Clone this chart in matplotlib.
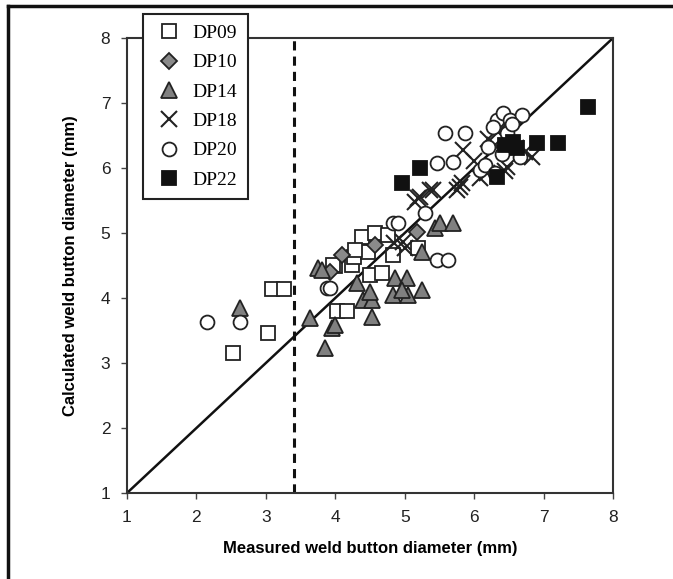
import matplotlib
matplotlib.use("Agg")
import matplotlib.pyplot as plt
from matplotlib.lines import Line2D

# measured (x) vs calculated (y) weld button diameter, mm
dp09_x = [2.53, 3.03, 3.09, 3.26, 4.03, 4.17, 4.00, 4.24, 4.27, 4.39, 4.47, 4.50,
          4.57, 4.67, 4.76, 4.83, 5.19, 3.97, 4.29]
dp09_y = [3.15, 3.46, 4.14, 4.14, 3.80, 3.80, 4.49, 4.51, 4.63, 4.94, 4.71, 4.35,
          5.00, 4.38, 4.97, 4.66, 4.77, 4.51, 4.74]

dp10_x = [4.10, 4.57, 5.18, 3.92]
dp10_y = [4.66, 4.82, 5.02, 4.40]

dp14_x = [2.63, 3.64, 3.75, 3.81, 3.85, 3.95, 4.00, 4.31, 4.40, 4.53, 4.53, 4.50,
          4.86, 5.03, 4.83, 5.05, 4.96, 5.25, 5.25, 5.44, 5.51, 5.70]
dp14_y = [3.85, 3.69, 4.46, 4.43, 3.23, 3.54, 3.58, 4.23, 3.97, 3.97, 3.71, 4.10,
          4.31, 4.31, 4.05, 4.05, 4.12, 4.12, 4.71, 5.08, 5.15, 5.15]

dp18_x = [4.85, 4.98, 5.00, 5.15, 5.19, 5.22, 5.37, 5.41, 5.75, 5.80, 5.83, 6.09,
          6.00, 6.19, 6.30, 6.48, 6.60, 6.73, 6.84, 6.20, 6.35, 5.84, 6.45]
dp18_y = [4.85, 4.86, 4.77, 5.48, 5.54, 5.55, 5.66, 5.66, 5.66, 5.71, 5.77, 5.85,
          6.10, 5.92, 6.35, 6.02, 6.30, 6.25, 6.17, 6.45, 6.55, 6.28, 5.95]

dp20_x = [2.15, 2.63, 3.88, 3.93, 4.83, 4.90, 5.29, 5.47, 5.63, 5.47, 5.58, 5.70,
          5.87, 6.09, 6.15, 6.33, 6.42, 6.52, 6.69, 6.27, 6.48, 6.66, 6.40, 6.55,
          6.20, 6.30]
dp20_y = [3.63, 3.63, 4.15, 4.15, 5.15, 5.15, 5.31, 4.58, 4.58, 6.08, 6.54, 6.09,
          6.54, 5.97, 6.05, 6.74, 6.85, 6.74, 6.82, 6.63, 6.54, 6.17, 6.22, 6.68,
          6.32, 5.92]

dp22_x = [4.96, 5.22, 6.33, 6.45, 6.56, 6.62, 6.91, 7.21, 7.64]
dp22_y = [5.77, 6.00, 5.86, 6.35, 6.40, 6.30, 6.38, 6.38, 6.94]

ticks = [1, 2, 3, 4, 5, 6, 7, 8]
limit_x = 3.4

fig = plt.figure(figsize=(6.73, 5.79), dpi=100)
ax = fig.add_axes([0.1887, 0.1485, 0.7222, 0.7859])

# reference lines
ax.plot([1, 8], [1, 8], color="#111111", lw=1.8, zorder=1)
ax.axvline(limit_x, color="#111111", lw=2.2, ls=(0, (3, 2)), zorder=1)

series = [
    ("DP09", dp09_x, dp09_y, dict(marker="s", ms=10, mfc="white", mec="#222222")),
    ("DP10", dp10_x, dp10_y, dict(marker="D", ms=8, mfc="#8a8a8a", mec="#222222")),
    ("DP14", dp14_x, dp14_y, dict(marker="^", ms=11, mfc="#808080", mec="#222222")),
    ("DP18", dp18_x, dp18_y, dict(marker="x", ms=11, mfc="none", mec="#222222", mew=1.5)),
    ("DP20", dp20_x, dp20_y, dict(marker="o", ms=10, mfc="white", mec="#222222")),
    ("DP22", dp22_x, dp22_y, dict(marker="s", ms=10, mfc="#111111", mec="#111111")),
]

handles = []
for name, xs, ys, style in series:
    st = dict(mew=1.3)
    st.update(style)
    ax.plot(xs, ys, ls="none", zorder=3, **st)
    handles.append(Line2D([], [], ls="none", label=name, **st))

ax.set_xlim(1, 8)
ax.set_ylim(1, 8)
ax.set_xticks(ticks)
ax.set_yticks(ticks)
ax.tick_params(direction="out", length=4, width=1, colors="#444444",
               labelsize=12.5, labelcolor="#222222", pad=8)
for sp in ax.spines.values():
    sp.set_color("#333333")
    sp.set_linewidth(1.5)

ax.set_xlabel("Measured weld button diameter (mm)", fontsize=12, fontweight="bold",
              family="Liberation Sans", labelpad=12)
ax.set_ylabel("Calculated weld button diameter (mm)", fontsize=12, fontweight="bold",
              family="Liberation Sans", labelpad=16)
for lab in ax.get_xticklabels() + ax.get_yticklabels():
    lab.set_family("Liberation Sans")

leg = fig.legend(handles=handles, loc="upper left", bbox_to_anchor=(0.2125, 0.976),
                 borderaxespad=0, frameon=True, fancybox=False, edgecolor="#222222",
                 framealpha=1, prop={"family": "Liberation Serif", "size": 14},
                 handletextpad=0.4, labelspacing=0.6, borderpad=0.55, handlelength=1.6)
leg.get_frame().set_linewidth(1.5)

# outer frame lines (left and top)
fig.add_artist(Line2D([0.012, 0.012], [0, 0.99], transform=fig.transFigure,
                      color="#111111", lw=2.5))
fig.add_artist(Line2D([0.012, 1.0], [0.99, 0.99], transform=fig.transFigure,
                      color="#111111", lw=2.5))

fig.savefig("out.png", dpi=100)
